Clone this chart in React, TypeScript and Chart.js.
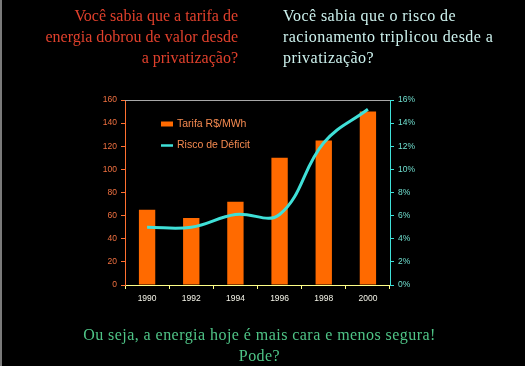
import React, { useEffect, useRef } from "react";
import { Chart, registerables } from "chart.js";

Chart.register(...registerables);

const years = ["1990", "1992", "1994", "1996", "1998", "2000"];
const tarifa = [65, 58, 72, 110, 125, 150];
const risco = [5, 5, 6.1, 6.1, 12.3, 15.2];
const tarifaLabel = "Tarifa R$/MWh";
const riscoLabel = "Risco de Déficit";

const leftQuestion = ["Você sabia que a tarifa de", "energia dobrou de valor desde", "a privatização?"];
const rightQuestion = ["Você sabia que o risco de", "racionamento triplicou desde a", "privatização?"];
const bottomText = ["Ou seja, a energia hoje é mais cara e menos segura!", "Pode?"];

const ORANGE = "#ff6a00";
const CYAN = "#3fe0d8";
const TICK_FONT = { family: "'Liberation Sans', Arial, sans-serif", size: 8.5 };

const decorPlugin = {
  id: "decor",
  afterDraw(chart: any) {
    const { ctx, chartArea } = chart;
    const { left, right, top } = chartArea;
    ctx.save();
    // top border
    ctx.strokeStyle = "#a8a8a8";
    ctx.lineWidth = 1;
    ctx.beginPath();
    ctx.moveTo(left, top + 0.5);
    ctx.lineTo(right, top + 0.5);
    ctx.stroke();
    // legend
    const ds = chart.data.datasets;
    ctx.font = "10.5px 'Liberation Sans', Arial, sans-serif";
    ctx.textBaseline = "middle";
    ctx.textAlign = "left";
    const lx = left + 36;
    const y1 = top + 24;
    const y2 = top + 45.5;
    ctx.fillStyle = ds[0].backgroundColor;
    ctx.fillRect(lx, y1 - 2.5, 12, 5);
    ctx.fillStyle = "#f58a50";
    ctx.fillText(ds[0].label, lx + 16, y1);
    ctx.strokeStyle = ds[1].borderColor;
    ctx.lineWidth = 2.5;
    ctx.beginPath();
    ctx.moveTo(lx, y2);
    ctx.lineTo(lx + 12, y2);
    ctx.stroke();
    ctx.fillStyle = "#f58a50";
    ctx.fillText(ds[1].label, lx + 16, y2);
    ctx.restore();
  },
};

function ChartView() {
  const ref = useRef<HTMLCanvasElement | null>(null);
  useEffect(() => {
    if (!ref.current) return;
    const chart = new Chart(ref.current, {
      type: "bar",
      data: {
        labels: years,
        datasets: [
          {
            type: "bar",
            label: tarifaLabel,
            data: tarifa,
            backgroundColor: ORANGE,
            borderWidth: 0,
            yAxisID: "y",
            order: 2,
            barPercentage: 0.37,
            categoryPercentage: 1,
          } as any,
          {
            type: "line",
            label: riscoLabel,
            data: risco,
            borderColor: CYAN,
            borderWidth: 3,
            pointRadius: 0,
            tension: 0.4,
            fill: false,
            yAxisID: "y1",
            order: 1,
          } as any,
        ],
      },
      options: {
        responsive: false,
        animation: false,
        devicePixelRatio: 1,
        layout: { padding: { top: 100, left: 0, right: 0, bottom: 0 } },
        plugins: { legend: { display: false }, tooltip: { enabled: false } },
        scales: {
          x: {
            grid: { display: true, drawOnChartArea: false, color: "#ffff88", tickLength: 4, offset: true },
            border: { color: "#ffff88", width: 1 },
            ticks: { color: "#f4f4e8", font: TICK_FONT, padding: 5, maxRotation: 0 },
            afterFit: (s: any) => { s.height = 81; },
          },
          y: {
            position: "left",
            min: 0,
            max: 160,
            grid: { display: true, drawOnChartArea: false, color: "#ff7030", tickLength: 4 },
            border: { color: "#ff7030", width: 1 },
            ticks: { stepSize: 20, color: "#f07040", font: TICK_FONT, padding: 4 },
            afterFit: (s: any) => { s.width = 125; },
          },
          y1: {
            position: "right",
            min: 0,
            max: 16,
            grid: { display: true, drawOnChartArea: false, color: CYAN, tickLength: 4 },
            border: { color: CYAN, width: 1 },
            ticks: { stepSize: 2, color: "#70e0d0", font: TICK_FONT, padding: 4, callback: (v: any) => v + "%" },
            afterFit: (s: any) => { s.width = 135; },
          },
        },
      },
      plugins: [decorPlugin],
    });
    return () => chart.destroy();
  }, []);
  return <canvas ref={ref} width={525} height={366} style={{ position: "absolute", left: 0, top: 0, width: 525, height: 366 }} />;
}

const serif = "'Liberation Serif', 'Times New Roman', serif";

export default function App() {
  useEffect(() => {
    document.body.style.margin = "0";
    document.body.style.background = "#000";
  }, []);
  return (
    <div style={{ position: "absolute", left: 0, top: 0, width: 525, height: 366, background: "#000", overflow: "hidden" }}>
      <div style={{ position: "absolute", left: 0, top: 0, width: 2, height: 366, background: "#7a7a7a" }} />
      <ChartView />
      <div style={{ position: "absolute", right: 525 - 238, top: 5, fontFamily: serif, fontSize: 16, lineHeight: "21px", color: "#e0402c", textAlign: "right", whiteSpace: "nowrap" }}>
        {leftQuestion.map((t, i) => <div key={i}>{t}</div>)}
      </div>
      <div style={{ position: "absolute", left: 283, top: 5, fontFamily: serif, fontSize: 16, lineHeight: "21px", letterSpacing: "0.45px", color: "#cdf2ee", textAlign: "left", whiteSpace: "nowrap" }}>
        {rightQuestion.map((t, i) => <div key={i}>{t}</div>)}
      </div>
      <div style={{ position: "absolute", left: 0, width: 519, top: 324, fontFamily: serif, fontSize: 16, lineHeight: "21px", letterSpacing: "0.45px", color: "#4fc487", textAlign: "center", whiteSpace: "nowrap" }}>
        {bottomText.map((t, i) => <div key={i}>{t}</div>)}
      </div>
    </div>
  );
}
